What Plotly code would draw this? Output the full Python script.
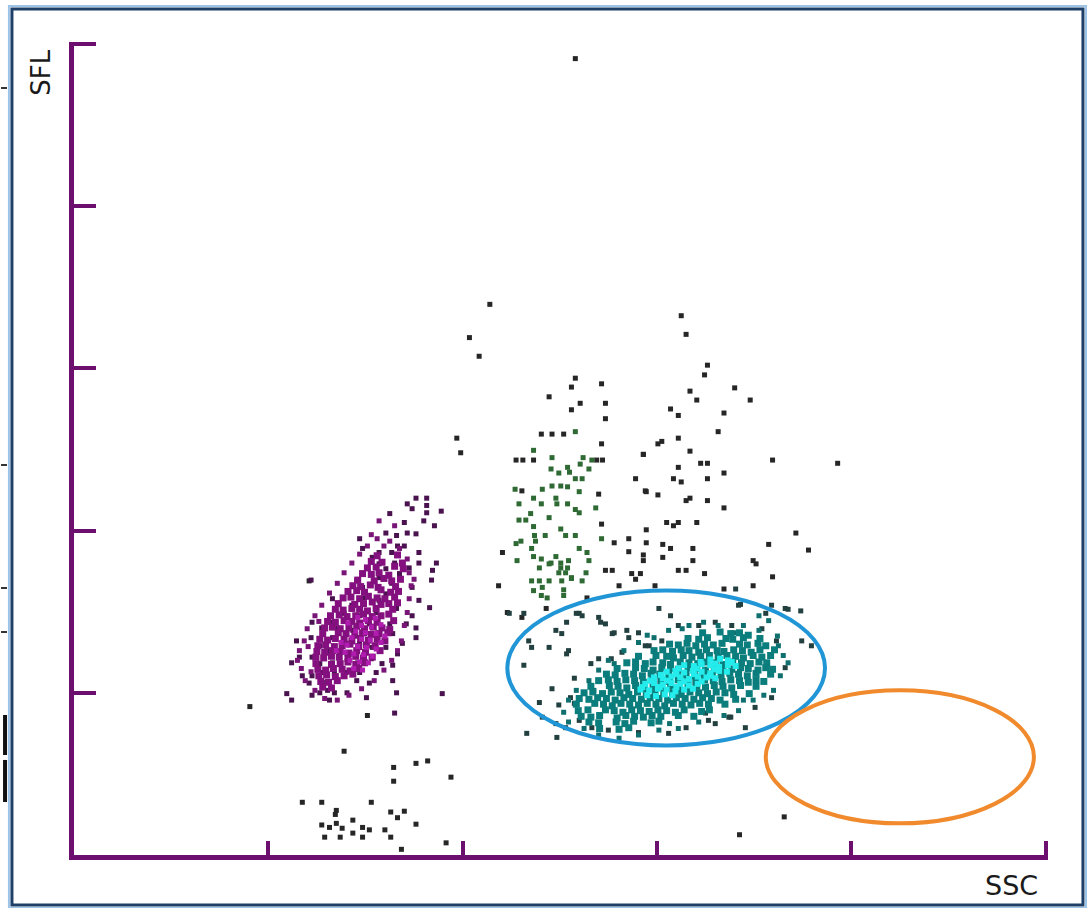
import plotly.graph_objects as go

# Scattergram: SSC (side scatter) vs SFL (side fluorescence), channel units 0-1000

# isolated events (debris, ghosts, scattered cells)
other_events = [
    (516, 982), (428, 679), (407, 638), (417, 615), (394, 514), (398, 496),
    (625, 665), (630, 642), (652, 604), (649, 592), (634, 572), (680, 576),
    (641, 561), (696, 561), (614, 550), (622, 542), (669, 545), (663, 522),
    (605, 510), (601, 507), (622, 514), (586, 494), (634, 498), (719, 487),
    (786, 483), (622, 478), (645, 483), (652, 483), (669, 471), (578, 464),
    (617, 464), (625, 460), (652, 464), (589, 448), (601, 444), (634, 440),
    (630, 437), (652, 437), (669, 428), (610, 410), (622, 410), (617, 406),
    (641, 410), (589, 401), (743, 397), (571, 390), (589, 385), (606, 383),
    (614, 378), (637, 378), (715, 383), (756, 376), (571, 374), (586, 370),
    (606, 367), (586, 363), (637, 363), (699, 363), (702, 359), (574, 347),
    (583, 347), (578, 340), (622, 351), (630, 351), (649, 347), (719, 343),
    (598, 332), (699, 332), (669, 328),
    (181, 183), (242, 338), (302, 172), (278, 128), (329, 108), (352, 113),
    (364, 116), (388, 96), (329, 91), (235, 65), (255, 65), (306, 65),
    (270, 55), (269, 50), (326, 53), (340, 54), (333, 46), (352, 38),
    (255, 37), (263, 34), (270, 39), (276, 33), (287, 43), (287, 27),
    (297, 34), (304, 31), (320, 31), (258, 22), (274, 22), (297, 22),
    (326, 22), (337, 7), (383, 15), (685, 25), (731, 47),
    (516, 588), (543, 581), (512, 577), (489, 565), (521, 557), (547, 557),
    (512, 549), (547, 538), (481, 519), (492, 519), (504, 519), (543, 507),
    (455, 487), (462, 487), (473, 487), (538, 487), (544, 487), (586, 494),
    (588, 449), (461, 449), (540, 445), (543, 408), (556, 385), (441, 373),
    (547, 351), (554, 351), (561, 332), (528, 317), (437, 332), (446, 299),
    (486, 304), (461, 293),
]

# scattered events around the neutrophil/eosinophil area
neut_scatter = [
    (463, 234), (468, 264), (489, 256), (520, 298), (542, 287), (602, 304),
    (614, 295), (681, 328), (684, 308), (712, 298), (732, 304), (748, 301),
    (749, 264), (759, 258), (732, 231), (718, 194), (691, 157), (674, 170),
    (492, 205), (509, 252), (540, 242), (496, 277), (556, 274), (569, 277),
    (588, 258), (517, 298), (479, 188), (499, 185), (482, 170), (496, 162),
    (506, 157), (466, 150), (497, 145), (463, 298), (471, 256), (448, 298),
    (686, 309), (718, 308), (735, 303), (507, 248), (515, 218), (532, 236),
    (553, 242), (564, 250), (592, 258), (605, 264), (643, 283), (660, 287),
    (677, 283), (708, 279), (723, 264), (701, 182), (676, 170), (653, 166),
    (650, 175), (660, 162), (630, 157), (612, 150), (581, 151), (550, 154),
    (533, 157), (520, 166), (511, 194), (515, 187), (571, 268), (581, 274),
    (622, 283), (554, 273), (547, 285), (540, 293), (523, 295), (507, 287),
    (502, 273),
]

# monocyte population
mono_events = [
    (516, 522), (473, 499), (492, 490), (524, 490), (533, 487), (491, 476),
    (499, 471), (508, 478), (510, 472), (521, 482), (530, 476), (516, 464),
    (523, 464), (492, 455), (501, 455), (508, 454), (454, 451), (482, 451),
    (520, 448), (458, 433), (473, 440), (481, 433), (496, 440), (497, 433),
    (508, 433), (516, 426), (520, 422), (537, 428), (470, 421), (489, 416),
    (458, 413), (465, 413), (473, 405), (501, 402), (506, 394), (516, 394),
    (474, 394), (485, 394), (475, 387), (460, 387), (455, 384), (543, 390),
    (471, 378), (520, 378), (528, 373), (473, 368), (496, 368), (456, 363),
    (481, 365), (491, 360), (501, 360), (509, 363), (530, 363), (479, 354),
    (489, 359), (501, 354), (508, 354), (499, 348), (506, 348), (512, 342),
    (527, 348), (471, 338), (479, 338), (482, 330), (489, 338), (502, 338),
    (512, 341), (523, 338), (473, 326), (504, 327), (481, 320), (504, 320),
    (487, 317),
]

# lymphocyte population: outer events, fringe, dense body, centre
lymph_outer = [
    (352, 440), (363, 440), (363, 431), (363, 422), (343, 433), (348, 427),
    (325, 421), (340, 410), (360, 412), (371, 406), (321, 397), (332, 394),
    (343, 397), (352, 396), (294, 390), (333, 381), (340, 381), (327, 373),
    (314, 373), (297, 378), (307, 367), (355, 373), (355, 360), (373, 360),
    (314, 359), (330, 360), (345, 354), (321, 353), (369, 351), (335, 347),
    (244, 339), (368, 339), (291, 338), (314, 342), (297, 330), (327, 335),
    (348, 330), (321, 322), (266, 316), (299, 317), (314, 314), (355, 314),
    (366, 305), (286, 308), (332, 304), (278, 298), (294, 295), (311, 299),
    (348, 295), (263, 287), (245, 287), (304, 285), (325, 285), (342, 285),
    (352, 280), (255, 280), (271, 280), (287, 277), (299, 273), (314, 273),
    (328, 273), (244, 268), (266, 268), (229, 264), (278, 264), (352, 268),
    (338, 261), (253, 258), (294, 261), (307, 256), (321, 256), (333, 248),
    (260, 252), (270, 252), (281, 248), (245, 244), (232, 244), (224, 237),
    (253, 236), (266, 237), (292, 237), (306, 242), (317, 236), (328, 234),
    (256, 225), (268, 224), (280, 225), (294, 225), (311, 225), (235, 221),
    (245, 221), (260, 213), (242, 212), (291, 215), (304, 212), (328, 215),
    (261, 203), (253, 200), (268, 200), (281, 200), (301, 194), (219, 199),
    (224, 191), (263, 191), (332, 200), (245, 197), (379, 199), (330, 175),
    (378, 424),
]

lymph_fringe = [
    (232, 252), (237, 264), (240, 279), (248, 295), (255, 308), (263, 323),
    (271, 335), (278, 348), (286, 360), (294, 371), (302, 381), (312, 390),
    (325, 387), (335, 378), (343, 365), (345, 348), (347, 332), (345, 316),
    (343, 299), (340, 283), (337, 264), (333, 252), (327, 240), (319, 228),
    (309, 215), (296, 205), (283, 197), (271, 191), (258, 193), (248, 203),
    (238, 215), (234, 230), (230, 240), (314, 412), (330, 406), (319, 381),
    (241, 257), (244, 226), (252, 288), (350, 340), (338, 352), (306, 395),
]

lymph_body = [
    (312, 369), (333, 370),
    (306, 362), (317, 361), (338, 360),
    (302, 354), (311, 355), (330, 356), (339, 353),
    (297, 347), (306, 346), (314, 348), (324, 345),
    (292, 339), (309, 338), (319, 341), (327, 338), (336, 340),
    (287, 332), (295, 331), (305, 333), (313, 330), (331, 331),
    (282, 325), (291, 326), (299, 324), (316, 327), (326, 324), (334, 325),
    (277, 317), (285, 318), (294, 316), (303, 319), (312, 317), (320, 316), (330, 318),
    (272, 310), (289, 309), (298, 310), (307, 312), (316, 309), (324, 310), (333, 311),
    (269, 303), (277, 302), (286, 304), (294, 303), (302, 301), (311, 304), (328, 303),
    (264, 295), (273, 296), (281, 294), (290, 295), (298, 297), (307, 294), (316, 295), (324, 297),
    (261, 288), (269, 287), (278, 289), (286, 288), (294, 286), (303, 289), (312, 287), (329, 289),
    (258, 280), (266, 281), (274, 279), (283, 280), (291, 282), (299, 279), (308, 281), (317, 280), (325, 278),
    (256, 273), (272, 274), (280, 273), (289, 271), (297, 274), (306, 272), (314, 273), (323, 274),
    (253, 266), (261, 265), (269, 267), (278, 266), (286, 264), (295, 267), (303, 265), (312, 266), (320, 264),
    (251, 258), (259, 259), (268, 257), (276, 258), (284, 260), (293, 257), (301, 259), (310, 258),
    (250, 251), (258, 250), (266, 252), (274, 251), (283, 249), (291, 252), (300, 250), (315, 252),
    (249, 244), (257, 243), (265, 245), (273, 244), (282, 242), (290, 245), (298, 243), (307, 244),
    (249, 236), (265, 235), (274, 236), (282, 238), (290, 235), (299, 237),
    (251, 229), (259, 228), (267, 230), (276, 229), (284, 227), (293, 230),
    (252, 221), (260, 222), (269, 220), (278, 221), (287, 223),
    (254, 214), (262, 213), (271, 215),
    (256, 207), (265, 206),
]

lymph_centre = [
    (300, 290), (310, 292), (296, 283), (306, 281), (316, 284), (290, 276),
    (300, 274), (311, 273), (286, 268), (296, 266), (305, 265), (316, 262),
    (281, 259), (292, 257), (301, 256), (311, 254), (279, 250), (288, 248),
    (298, 247), (307, 245), (284, 240), (294, 238), (303, 237), (288, 230),
    (297, 228), (320, 270), (275, 262), (282, 286), (292, 293), (270, 252),
]

# neutrophil population: fringe, dense body and centre
neut_fringe = [
    (540, 228), (550, 240), (566, 252), (581, 262), (597, 268), (612, 277),
    (633, 283), (648, 287), (663, 283), (689, 283), (705, 277), (725, 258),
    (730, 246), (727, 221), (720, 203), (710, 197), (699, 191), (684, 178),
    (669, 172), (643, 164), (622, 156), (602, 154), (581, 148), (561, 144),
    (540, 148), (525, 156), (509, 164), (504, 176), (509, 191), (517, 203),
    (530, 215), (535, 203), (705, 295), (715, 289), (679, 274), (735, 237),
    (689, 191), (556, 236), (590, 271), (626, 279), (724, 270), (613, 162),
]

neut_body = [
    (647, 274), (665, 275), (676, 273), (685, 274), (694, 271),
    (632, 267), (643, 266), (652, 268), (671, 267), (678, 266), (689, 268), (706, 267),
    (613, 260), (622, 259), (631, 261), (640, 258), (649, 260), (658, 259), (667, 261), (685, 260), (693, 259), (704, 261), (712, 258),
    (597, 252), (606, 253), (616, 251), (625, 253), (633, 252), (643, 250), (651, 253), (662, 252), (669, 251), (679, 253), (688, 252), (697, 250), (706, 253), (721, 253),
    (581, 245), (599, 246), (610, 245), (617, 243), (627, 246), (636, 244), (645, 245), (654, 246), (663, 244), (672, 246), (681, 245), (689, 243), (699, 246), (708, 244), (717, 246),
    (569, 237), (578, 238), (588, 236), (596, 238), (606, 237), (614, 235), (624, 238), (633, 237), (642, 236), (651, 238), (660, 237), (668, 235), (678, 238), (687, 237), (696, 236), (705, 238), (713, 237),
    (559, 230), (578, 231), (587, 230), (596, 228), (605, 231), (614, 230), (622, 229), (632, 231), (641, 230), (650, 228), (659, 231), (668, 230), (677, 229), (686, 231), (694, 230), (704, 228), (712, 231), (719, 229),
    (548, 223), (557, 222), (567, 224), (576, 223), (585, 221), (594, 224), (603, 223), (612, 222), (621, 224), (630, 223), (639, 221), (648, 224), (657, 223), (666, 222), (675, 224), (684, 223), (693, 221), (702, 224), (717, 223),
    (540, 215), (550, 216), (559, 214), (568, 216), (577, 215), (586, 213), (595, 216), (604, 215), (613, 214), (622, 216), (631, 215), (640, 213), (649, 216), (658, 215), (667, 214), (676, 216), (685, 215), (694, 213), (702, 216), (710, 214),
    (532, 208), (551, 209), (560, 208), (569, 206), (578, 209), (587, 208), (596, 207), (605, 209), (614, 208), (623, 206), (632, 209), (641, 208), (650, 207), (659, 209), (668, 208), (677, 206), (686, 209), (702, 208),
    (525, 200), (534, 201), (544, 199), (553, 201), (562, 200), (571, 198), (580, 201), (589, 200), (598, 199), (607, 201), (616, 200), (625, 198), (634, 201), (643, 200), (652, 199), (661, 201), (670, 200), (679, 198), (695, 199),
    (520, 193), (530, 192), (539, 194), (548, 193), (557, 191), (566, 194), (575, 193), (584, 192), (593, 194), (602, 193), (611, 191), (620, 194), (629, 193), (638, 192), (647, 194), (656, 193), (665, 191), (681, 192),
    (517, 186), (536, 187), (545, 186), (554, 184), (563, 187), (572, 186), (581, 185), (590, 187), (599, 186), (608, 184), (617, 187), (626, 186), (635, 185), (644, 187), (653, 186), (670, 186),
    (519, 178), (529, 179), (547, 179), (556, 178), (565, 176), (574, 179), (583, 178), (592, 177), (601, 179), (610, 178), (619, 176), (628, 179), (646, 177), (654, 179),
    (522, 171), (532, 170), (541, 172), (559, 169), (568, 172), (577, 171), (586, 170), (595, 172), (604, 171), (622, 172), (638, 171),
    (530, 164), (540, 163), (558, 164), (567, 162), (576, 165), (594, 163), (602, 165),
    (541, 156), (561, 155), (571, 157),
]

neut_centre = [
    (655, 241), (665, 242), (673, 240),
    (628, 234), (638, 233), (646, 235), (655, 234), (664, 232), (673, 234), (681, 233),
    (645, 238), (660, 236), (677, 238),
    (610, 226), (619, 227), (628, 225), (637, 227), (646, 226), (655, 224), (664, 227), (672, 226),
    (622, 230), (641, 230), (659, 229),
    (597, 219), (606, 218), (615, 220), (624, 219), (633, 217), (642, 220), (651, 219), (660, 218),
    (604, 222), (620, 223), (638, 223), (655, 221),
    (588, 211), (597, 212), (606, 210), (615, 212), (624, 211), (633, 209), (642, 211),
    (593, 215), (611, 215), (628, 214), (646, 214),
    (583, 204), (592, 203), (601, 205), (610, 204), (619, 202), (628, 204),
    (585, 207), (603, 207), (620, 207), (637, 205),
    (590, 197), (599, 196), (608, 198), (616, 197),
]

# gates (x0, y0, x1, y1) in channel units
neut_gate = (446, 135, 773, 326)
eo_gate = (712, 39, 988, 203)

axis_ticks = [200, 400, 600, 800, 1000]
axis_range = [0, 1002.5]

AXIS_COLOR = "#6c0f6e"


def add_events(points, color, size, name):
    xs = [p[0] for p in points]
    ys = [p[1] for p in points]
    fig.add_trace(go.Scatter(
        x=xs, y=ys, mode="markers", name=name, hoverinfo="skip",
        marker=dict(symbol="square", size=size, color=color, line=dict(width=0)),
    ))


fig = go.Figure()
add_events(other_events, "#262626", 5, "other")
add_events(neut_scatter, "#22403f", 5, "neut scatter")
add_events(mono_events, "#2f6a34", 5, "mono")
add_events(lymph_outer, "#4a1350", 5, "lymph outer")
add_events(lymph_fringe, "#7a1578", 5, "lymph fringe")
add_events(lymph_body, "#84107f", 7, "lymph")
add_events(lymph_centre, "#b01cb0", 5, "lymph centre")
add_events(neut_fringe, "#0f6f6f", 5, "neut fringe")
add_events(neut_body, "#0b7d7d", 7, "neut")
add_events(neut_centre, "#25ecec", 6, "neut centre")

shapes = []
# gates drawn as ellipses
for gate, col in ((neut_gate, "#2196d6"), (eo_gate, "#f08a2c")):
    shapes.append(dict(type="circle", xref="x", yref="y",
                       x0=gate[0], y0=gate[1], x1=gate[2], y1=gate[3],
                       line=dict(color=col, width=4), layer="above"))

# window frame around the scattergram
shapes.append(dict(type="rect", xref="paper", yref="paper",
                   x0=-0.0668, x1=1.0390, y0=-0.0652, y1=1.0443,
                   line=dict(color="#9cc4e8", width=2), layer="below"))
shapes.append(dict(type="rect", xref="paper", yref="paper",
                   x0=-0.0637, x1=1.0359, y0=-0.0615, y1=1.0406,
                   line=dict(color="#1d3f68", width=3), layer="below"))

# edge of a neighbouring window, left of the frame
for y0, y1, w in ((0.1722, 0.1230, 4), (0.1169, 0.0652, 4)):
    shapes.append(dict(type="line", xref="paper", yref="paper",
                       x0=-0.0708, x1=-0.0708, y0=y0, y1=y1,
                       line=dict(color="#111111", width=w)))
for yy in (0.9434, 0.4797, 0.3284, 0.2743):
    shapes.append(dict(type="line", xref="paper", yref="paper",
                       x0=-0.0749, x1=-0.0688, y0=yy, y1=yy,
                       line=dict(color="#333333", width=2)))

fig.update_layout(
    width=1091, height=908,
    margin=dict(l=74, r=43, t=42, b=53),
    paper_bgcolor="white", plot_bgcolor="white",
    showlegend=False,
    shapes=shapes,
    xaxis=dict(range=axis_range, tickvals=axis_ticks, showticklabels=False,
               ticks="inside", ticklen=14, tickwidth=4, tickcolor=AXIS_COLOR,
               showline=True, linecolor=AXIS_COLOR, linewidth=5,
               showgrid=False, zeroline=False, fixedrange=True),
    yaxis=dict(range=axis_range, tickvals=axis_ticks, showticklabels=False,
               ticks="inside", ticklen=22, tickwidth=4, tickcolor=AXIS_COLOR,
               showline=True, linecolor=AXIS_COLOR, linewidth=5,
               showgrid=False, zeroline=False, fixedrange=True),
    annotations=[
        dict(text="SFL", xref="paper", yref="paper", x=-0.034, y=0.962,
             xanchor="center", yanchor="middle",
             textangle=-90, showarrow=False,
             font=dict(family="DejaVu Sans", size=26, color="#1a1a1a")),
        dict(text="SSC", xref="paper", yref="paper", x=0.963, y=-0.037,
             xanchor="center", yanchor="middle",
             showarrow=False,
             font=dict(family="DejaVu Sans", size=27, color="#1a1a1a")),
    ],
)

fig.write_html("out.html")
